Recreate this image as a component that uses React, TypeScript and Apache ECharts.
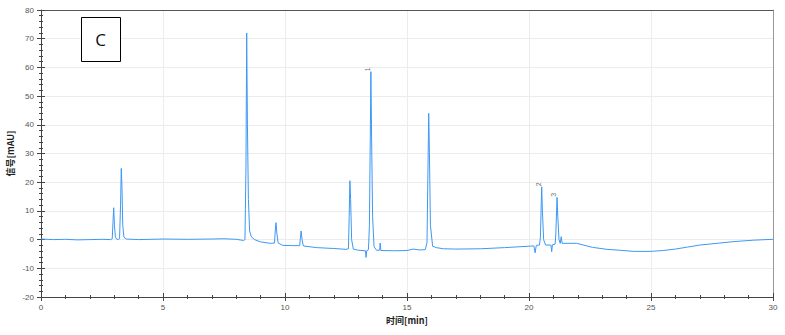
import React, { useEffect, useRef } from "react";
import * as echarts from "echarts";

// Retention time (min) and detector signal (mAU)
const times: number[] = [
  0, 0.5, 1, 1.5, 2, 2.5, 2.85,
  2.92, 2.95, 2.98, 3.01, 3.05, 3.1, 3.18,
  3.22, 3.26, 3.29, 3.32, 3.35, 3.4, 3.5,
  4, 5, 6, 7, 7.5, 8, 8.3,
  8.36, 8.4, 8.43, 8.46, 8.5, 8.55, 8.62, 8.75, 9.0, 9.4,
  9.57, 9.6, 9.63, 9.67, 9.72, 9.9, 10.3, 10.6,
  10.63, 10.66, 10.7, 10.75, 11.3, 12.0, 12.5,
  12.6, 12.63, 12.66, 12.69, 12.73, 12.8, 13.0, 13.3, 13.32, 13.35, 13.42,
  13.46, 13.5, 13.52, 13.55, 13.59, 13.65, 13.75, 13.88, 13.9, 13.93, 14.5, 15.0, 15.25, 15.5, 15.75,
  15.82, 15.86, 15.89, 15.92, 15.96, 16.05, 16.2, 16.5, 17, 18, 19, 20, 20.2, 20.25, 20.3, 20.43,
  20.47, 20.5, 20.52, 20.55, 20.6, 20.68, 20.9, 20.93, 20.96, 21.07,
  21.1, 21.13, 21.15, 21.18, 21.23, 21.28, 21.32, 21.36, 21.95, 22.6, 23.2, 23.7, 24.3, 25, 25.5,
  26, 26.5, 27, 27.7, 28.4, 29.2, 30,
];
const signal: number[] = [
  0.2, 0.0, 0.1, -0.1, 0.0, 0.1, 0.0,
  0.3, 6, 11.1, 5, 0.8, 0.2, 0.0,
  0.5, 12, 24.8, 18, 5, 0.8, 0.2,
  0.0, 0.2, 0.1, 0.2, 0.3, 0.1, -0.3,
  0.0, 25, 72, 40, 14, 3, 1.0, 0.0, -0.8, -1.3,
  -1.2, 3, 5.9, 2, -1.2, -2.0, -2.1, -2.1,
  0.5, 3.0, 0, -2.2, -2.8, -3.1, -3.4,
  -3.2, 8, 20.5, 14, 0, -3.3, -3.7, -3.9, -6.2, -3.9, -3.5,
  5, 40, 58.5, 35, 8, -2.5, -3.7, -3.7, -1.2, -3.8, -3.9, -3.8, -3.3, -3.6, -3.5,
  -1, 25, 44, 30, 5, -2.3, -2.8, -3.2, -3.3, -3.2, -2.8, -2.3, -2.2, -4.6, -2.0, -1.9,
  1, 12, 18.4, 10, 0, -1.9, -1.9, -4.2, -1.8, -1.6,
  2, 10, 14.7, 8, 0, -1.3, 1.0, -1.3, -1.3, -2.7, -3.4, -3.7, -4.1, -4.1, -3.8,
  -3.3, -2.6, -1.9, -1.3, -0.7, -0.2, 0.1,
];

// Integrated peak labels
const peakNames: string[] = ["1", "2", "3"];
const peakTimes: number[] = [13.52, 20.52, 21.15];
const peakHeights: number[] = [58.5, 18.4, 14.7];

const xMin = 0, xMax = 30, xInterval = 5;
const yMin = -20, yMax = 80, yInterval = 10;

export default function App() {
  const ref = useRef<HTMLDivElement>(null);
  useEffect(() => {
    if (!ref.current) return;
    const chart = echarts.init(ref.current, null, { renderer: "svg" });
    const labelStyle = { fontSize: 8, color: "#555", fontFamily: "Liberation Sans" };
    const nameStyle = { fontSize: 9, fontWeight: "bold" as const, color: "#222", fontFamily: "Noto Sans CJK SC" };
    chart.setOption({
      animation: false,
      backgroundColor: "#fff",
      grid: { left: 41, right: 12, top: 10, bottom: 38, outerBoundsMode: "none", containLabel: false },
      xAxis: [
        {
          type: "value", min: xMin, max: xMax, interval: xInterval, position: "bottom",
          name: "时间[min]", nameLocation: "middle", nameGap: 19, nameTextStyle: nameStyle,
          axisLine: { show: true, onZero: false, lineStyle: { color: "#444", width: 1 } },
          axisTick: { show: true, length: 4, lineStyle: { color: "#444" } },
          minorTick: { show: true, splitNumber: 5, length: 2, lineStyle: { color: "#444" } },
          axisLabel: { ...labelStyle, margin: 6 },
          splitLine: { show: true, lineStyle: { color: "#ececec", width: 1 } },
        },
        {
          type: "value", min: xMin, max: xMax, interval: xInterval, position: "bottom",
          axisLine: { show: false, onZero: false },
          axisTick: { show: true, inside: true, length: 4, lineStyle: { color: "#444" } },
          minorTick: { show: true, splitNumber: 5, length: 2, lineStyle: { color: "#444" } },
          axisLabel: { show: false }, splitLine: { show: false },
        },
        {
          type: "value", min: xMin, max: xMax, position: "top",
          axisLine: { show: true, onZero: false, lineStyle: { color: "#555", width: 1 } },
          axisTick: { show: false }, axisLabel: { show: false }, splitLine: { show: false },
        },
      ],
      yAxis: [
        {
          type: "value", min: yMin, max: yMax, interval: yInterval, position: "left",
          name: "信号[mAU]", nameLocation: "middle", nameGap: 26, nameRotate: 90, nameTextStyle: nameStyle,
          nameMoveOverlap: false,
          axisLine: { show: true, onZero: false, lineStyle: { color: "#444", width: 1 } },
          axisTick: { show: true, length: 4, lineStyle: { color: "#444" } },
          minorTick: { show: true, splitNumber: 5, length: 2, lineStyle: { color: "#444" } },
          axisLabel: { ...labelStyle, margin: 7 },
          splitLine: { show: true, lineStyle: { color: "#ececec", width: 1 } },
        },
        {
          type: "value", min: yMin, max: yMax, interval: yInterval, position: "left", offset: 0,
          axisLine: { show: false, onZero: false },
          axisTick: { show: true, inside: true, length: 4, lineStyle: { color: "#444" } },
          minorTick: { show: true, splitNumber: 5, length: 2, lineStyle: { color: "#444" } },
          axisLabel: { show: false }, splitLine: { show: false },
        },
        {
          type: "value", min: yMin, max: yMax, position: "right",
          axisLine: { show: true, onZero: false, lineStyle: { color: "#999", width: 1 } },
          axisTick: { show: false }, axisLabel: { show: false }, splitLine: { show: false },
        },
      ],
      series: [
        {
          type: "line",
          xAxisIndex: 0, yAxisIndex: 0,
          data: times.map((t, i) => [t, signal[i]]),
          showSymbol: false, symbol: "none",
          lineStyle: { color: "#3d98f3", width: 1 },
          z: 3,
        },
        {
          type: "scatter",
          xAxisIndex: 0, yAxisIndex: 0,
          data: peakNames.map((n, i) => ({ name: n, value: [peakTimes[i], peakHeights[i]] })),
          symbolSize: 1,
          itemStyle: { color: "rgba(0,0,0,0)" },
          label: {
            show: true, position: "top", distance: 2, rotate: 90, formatter: "{b}",
            fontSize: 7, color: "#444", fontFamily: "Liberation Sans",
          },
          z: 4,
        },
      ],
      graphic: [
        {
          type: "rect", left: 81, top: 17, z: 10,
          shape: { width: 39, height: 44 },
          style: { fill: "#fff", stroke: "#000", lineWidth: 1 },
        },
        {
          type: "text", x: 100.5, y: 39, z: 11,
          style: {
            text: "C", fontSize: 17, fill: "#111", fontFamily: "Open Sans",
            align: "center", verticalAlign: "middle",
          },
        },
      ],
    });
    return () => chart.dispose();
  }, []);
  return <div ref={ref} style={{ width: 785, height: 335, position: "absolute", left: 0, top: 0 }} />;
}
